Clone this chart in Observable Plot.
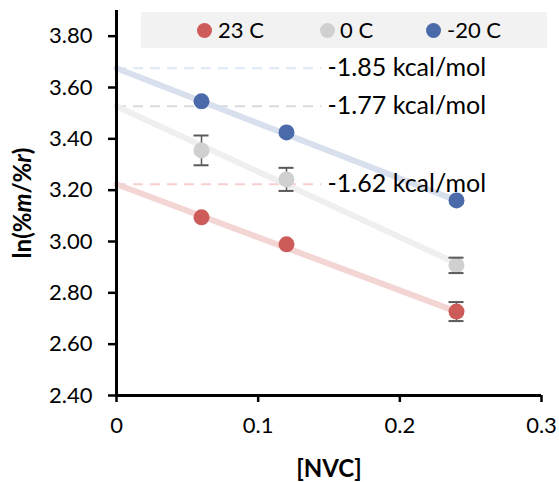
<!DOCTYPE html>
<html><head><meta charset="utf-8">
<script src="https://cdn.jsdelivr.net/npm/d3@7"></script>
<script src="https://cdn.jsdelivr.net/npm/@observablehq/plot@0.6"></script>
<style>
body{margin:0;background:#fff;font-family:Lato,"Open Sans",sans-serif;}
#wrap{position:relative;width:559px;height:482px;overflow:hidden;}
#legend{position:absolute;left:141px;top:12px;width:406px;height:36px;background:#f2f2f2;}
.li{position:absolute;top:0;height:36px;line-height:36px;font-size:22px;color:#000;white-space:nowrap;}
.li i{position:absolute;top:10.5px;width:15px;height:15px;border-radius:50%;}
#ytitle{position:absolute;left:21px;top:203px;transform:translate(-50%,-50%) rotate(-90deg);font-size:24px;font-weight:bold;white-space:nowrap;}
#xtitle{position:absolute;left:329px;top:467px;transform:translate(-50%,-50%);font-size:24px;font-weight:bold;white-space:nowrap;}
</style></head><body>
<div id="wrap"><div id="chart"></div><div id="legend"></div>
<div id="ytitle">ln(%<i>m</i>/%<i>r</i>)</div><div id="xtitle">[NVC]</div></div>
<script>
// ---- data ----
const series = ["23 C", "0 C", "-20 C"];
const colors = ["#cc5b59", "#d0d0d0", "#4a6aaa"];
const trendColors = ["#f3d5d4", "#efefef", "#d8dfed"];
const dashColors = ["#f8cfcf", "#dadada", "#dde9f6"];
const nvc = [0.06, 0.12, 0.24];
const val23 = [3.094, 2.989, 2.727];
const val0 = [3.355, 3.242, 2.907];
const valM20 = [3.546, 3.425, 3.160];
const err23 = [0, 0, 0.037];
const err0 = [0.058, 0.045, 0.03];
const errM20 = [0, 0, 0];
const trendStartX = 0;
const trendEndX = 0.24;
const trendStart = [3.223, 3.527, 3.675];
const trendEnd = [2.727, 2.915, 3.160];
const energyLabels = ["-1.62 kcal/mol", "-1.77 kcal/mol", "-1.85 kcal/mol"];
const labelX = 0.149;
const yTicks = [2.4, 2.6, 2.8, 3.0, 3.2, 3.4, 3.6, 3.8];
const xTicks = [0, 0.1, 0.2, 0.3];

// ---- build tables ----
const vals = [val23, val0, valM20];
const errs = [err23, err0, errM20];
const points = series.flatMap((s, i) => nvc.map((x, j) => ({s, i, x, y: vals[i][j], e: errs[i][j]})));
const bars = points.filter(d => d.e > 0);
const trends = series.flatMap((s, i) => [{s, i, x: trendStartX, y: trendStart[i]}, {s, i, x: trendEndX, y: trendEnd[i]}]);
const intercepts = series.map((s, i) => ({s, i, y: trendStart[i], label: energyLabels[i]}));

const plot = Plot.plot({
  width: 559, height: 482,
  marginLeft: 116, marginRight: 18, marginTop: 10, marginBottom: 87,
  style: {fontFamily: "Lato, 'Open Sans', sans-serif", fontSize: "22px", color: "#000", background: "transparent"},
  x: {domain: [0, 0.3]},
  y: {domain: [2.4, 3.9]},
  marks: [
    Plot.ruleY(intercepts, {y: "y", x1: 0, x2: labelX - 0.004, stroke: d => dashColors[d.i], strokeWidth: 2, strokeDasharray: "10,7"}),
    Plot.line(trends, {x: "x", y: "y", z: "s", stroke: d => trendColors[d.i], strokeWidth: 6}),
    Plot.text(intercepts, {x: labelX, y: "y", text: "label", textAnchor: "start", fontSize: 25, fill: "#000"}),
    Plot.ruleX(bars, {x: "x", y1: d => d.y - d.e, y2: d => d.y + d.e, stroke: "#595959", strokeWidth: 1.5}),
    Plot.dot(points, {x: "x", y: "y", r: 8, fill: d => colors[d.i], stroke: "none"}),
    Plot.ruleY(bars, {y: d => d.y + d.e, x1: "x", x2: "x", insetLeft: -7.5, insetRight: -7.5, stroke: "#595959", strokeWidth: 2}),
    Plot.ruleY(bars, {y: d => d.y - d.e, x1: "x", x2: "x", insetLeft: -7.5, insetRight: -7.5, stroke: "#595959", strokeWidth: 2}),
    Plot.axisY({ticks: yTicks, tickFormat: d3.format(".2f"), tickSize: 8, tickPadding: 16, strokeWidth: 2.5, stroke: "#000", label: null, fontSize: 22}),
    Plot.axisX({ticks: xTicks, tickFormat: d => String(d), tickSize: 7, tickPadding: 15, strokeWidth: 2.5, stroke: "#000", label: null, fontSize: 22}),
    Plot.ruleX([0], {stroke: "#000", strokeWidth: 3}),
    Plot.ruleY([2.4], {stroke: "#000", strokeWidth: 3})
  ]
});
document.getElementById("chart").appendChild(plot);

// legend
const legendPos = [{dot: 204, text: 218}, {dot: 327, text: 340}, {dot: 433, text: 447}];
const lg = document.getElementById("legend");
series.forEach((s, i) => {
  const dot = document.createElement("div");
  dot.className = "li";
  dot.style.left = (legendPos[i].dot - 141 - 7.5) + "px";
  dot.innerHTML = `<i style="background:${colors[i]};left:0"></i>`;
  lg.appendChild(dot);
  const t = document.createElement("div");
  t.className = "li";
  t.style.left = (legendPos[i].text - 141) + "px";
  t.textContent = s;
  lg.appendChild(t);
});
</script></body></html>
